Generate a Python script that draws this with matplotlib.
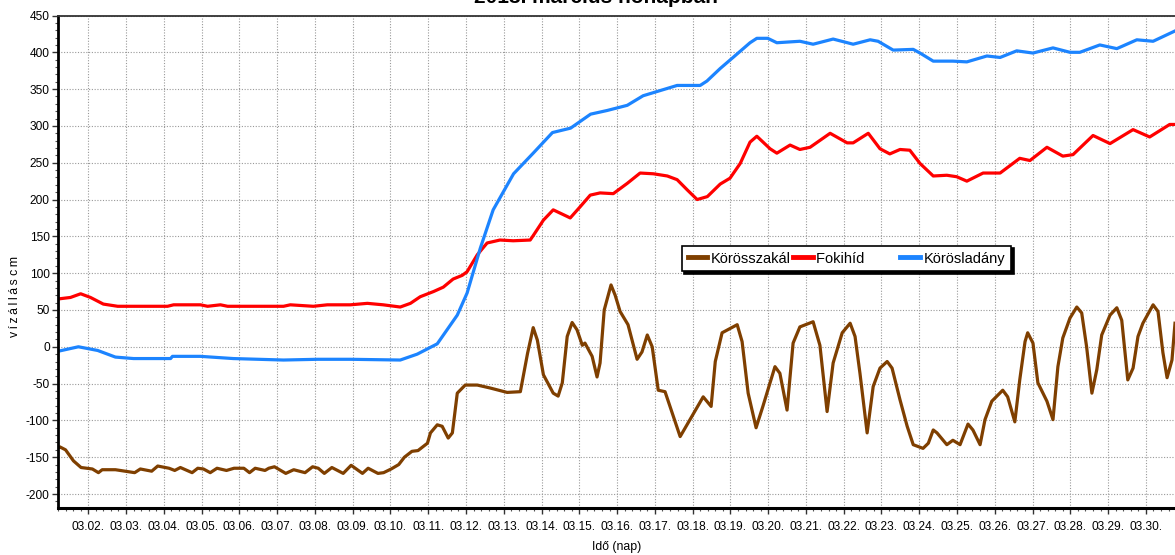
import matplotlib
matplotlib.use("Agg")
import matplotlib.pyplot as plt
from matplotlib.ticker import MultipleLocator, FixedLocator

plt.rcParams['font.family'] = ['Liberation Sans', 'DejaVu Sans']
plt.rcParams['axes.unicode_minus'] = False

# nap = marcius napja (tort resz = napon beluli ido), cm = vizallas
szakal_nap = [1.21, 1.25, 1.40, 1.61, 1.81, 2.11, 2.27, 2.37, 2.72, 3.23, 3.38, 3.68, 3.84, 4.14, 4.29,
              4.44, 4.75, 4.90, 5.05, 5.23, 5.41, 5.66, 5.86, 6.12, 6.27, 6.42, 6.68, 6.78, 6.93, 7.23,
              7.44, 7.74, 7.94, 8.09, 8.25, 8.45, 8.75, 8.96, 9.26, 9.41, 9.67, 9.82, 10.02, 10.22, 10.37,
              10.57, 10.73, 10.83, 10.98, 11.06, 11.24, 11.37, 11.53, 11.64, 11.77, 11.98, 12.30, 12.64,
              13.09, 13.44, 13.63, 13.78, 13.89, 14.05, 14.31, 14.44, 14.55, 14.68, 14.81, 14.94, 15.08,
              15.15, 15.34, 15.47, 15.55, 15.66, 15.84, 15.95, 16.08, 16.29, 16.53, 16.66, 16.80, 16.93,
              17.09, 17.27, 17.46, 17.67, 17.93, 18.28, 18.49, 18.60, 18.78, 19.18, 19.31, 19.47, 19.68,
              19.86, 20.18, 20.31, 20.50, 20.66, 20.84, 21.19, 21.37, 21.56, 21.72, 21.96, 22.17, 22.30,
              22.43, 22.62, 22.78, 22.96, 23.15, 23.28, 23.49, 23.68, 23.84, 24.10, 24.24, 24.37, 24.47,
              24.73, 24.89, 25.08, 25.29, 25.42, 25.61, 25.74, 25.92, 26.21, 26.34, 26.53, 26.66, 26.80,
              26.87, 27.01, 27.14, 27.38, 27.54, 27.67, 27.80, 27.99, 28.17, 28.30, 28.43, 28.57, 28.70,
              28.83, 29.05, 29.23, 29.36, 29.52, 29.66, 29.79, 29.92, 30.19, 30.32, 30.45, 30.56, 30.69,
              30.77]
szakal_cm = [-137, -136, -140, -155, -164, -166, -171, -167, -167, -171, -166, -169, -162, -165, -168,
             -164, -171, -165, -166, -171, -165, -168, -165, -165, -171, -165, -168, -165, -163, -172,
             -167, -171, -163, -165, -172, -164, -172, -161, -172, -165, -172, -171, -166, -160, -150,
             -142, -141, -137, -131, -117, -106, -108, -124, -117, -63, -52, -52, -56,
             -62, -61, -9, 26, 9, -38, -63, -67, -49, 14, 33, 23, 2,
             5, -13, -41, -22, 50, 84, 70, 48, 30, -17, -7, 16, 0,
             -59, -61, -90, -122, -99, -68, -81, -20, 19, 30, 7, -63, -110,
             -81, -27, -36, -86, 5, 27, 34, 2, -88, -22, 19, 32, 14,
             -36, -117, -54, -29, -20, -29, -72, -108, -133, -138, -131, -113, -117,
             -133, -127, -133, -105, -113, -133, -99, -74, -59, -68, -102, -45, 7,
             19, 5, -49, -74, -99, -27, 12, 39, 54, 46, 0, -63, -31,
             16, 43, 53, 36, -45, -29, 14, 32, 57, 48, -8, -42, -18,
             32]

fokihid_nap = [1.21, 1.53, 1.80, 2.06, 2.40, 2.78, 4.10, 4.26, 4.97, 5.16, 5.50, 5.69, 7.17, 7.35, 7.96,
               8.33, 8.94, 9.39, 9.81, 10.26, 10.53, 10.79, 11.14, 11.40, 11.66, 11.90, 12.03, 12.30,
               12.56, 12.90, 13.25, 13.70, 13.78, 14.05, 14.31, 14.68, 14.76, 15.02, 15.29, 15.55, 15.90,
               16.27, 16.61, 16.96, 17.33, 17.59, 17.86, 18.12, 18.39, 18.73, 18.99, 19.26, 19.52, 19.70,
               20.05, 20.23, 20.58, 20.84, 21.11, 21.64, 22.09, 22.25, 22.65, 22.96, 23.22, 23.49, 23.75,
               24.02, 24.37, 24.73, 24.99, 25.26, 25.69, 26.14, 26.66, 26.93, 27.38, 27.80, 28.07, 28.60,
               29.05, 29.66, 30.10, 30.63, 30.77]
fokihid_cm = [65, 67, 72, 67, 58, 55, 55, 57, 57, 55, 57, 55, 55, 57, 55,
              57, 57, 59, 57, 54, 59, 68, 75, 81, 92, 97, 102, 125,
              141, 145, 144, 145, 151, 172, 186, 177, 175, 190, 206, 209, 208,
              222, 236, 235, 232, 227, 213, 200, 204, 221, 229, 249, 278, 286,
              269, 263, 274, 268, 271, 290, 277, 277, 290, 269, 262, 268, 267,
              249, 232, 233, 231, 225, 236, 236, 256, 253, 271, 259, 261, 287,
              276, 295, 285, 302, 302]

ladany_nap = [1.21, 1.74, 2.25, 2.72, 3.20, 4.18, 4.23, 4.97, 5.84, 7.17, 8.07, 8.94, 10.26, 10.71,
              11.24, 11.77, 12.03, 12.38, 12.72, 13.26, 13.78, 14.29, 14.77, 15.30, 15.74, 16.27, 16.69,
              17.14, 17.59, 18.20, 18.38, 18.73, 19.07, 19.52, 19.70, 19.99, 20.23, 20.84, 21.19, 21.72,
              22.25, 22.70, 22.91, 23.31, 23.84, 24.02, 24.37, 24.89, 25.26, 25.79, 26.14, 26.58, 27.01,
              27.54, 27.99, 28.25, 28.78, 29.23, 29.76, 30.19, 30.77]
ladany_cm = [-6, 0, -5, -14, -16, -16, -13, -13, -16, -18, -17, -17, -18, -10,
             4, 43, 73, 134, 186, 235, 263, 291, 297, 316, 321, 328, 341,
             348, 355, 355, 361, 378, 393, 413, 419, 419, 413, 415, 411, 418,
             411, 417, 415, 403, 404, 399, 388, 388, 387, 395, 393, 402, 399,
             406, 400, 400, 410, 405, 417, 415, 429]

allomasok = ["Körösszakál", "Fokihíd", "Körösladány"]
szinek = ["#7f3f00", "#ff0000", "#1c84ff"]

nap_tick = [2, 3, 4, 5, 6, 7, 8, 9, 10, 11, 12, 13, 14, 15, 16, 17, 18, 19, 20, 21, 22, 23, 24, 25,
            26, 27, 28, 29, 30]
nap_cimke = ["03.02.", "03.03.", "03.04.", "03.05.", "03.06.", "03.07.", "03.08.", "03.09.", "03.10.",
             "03.11.", "03.12.", "03.13.", "03.14.", "03.15.", "03.16.", "03.17.", "03.18.", "03.19.",
             "03.20.", "03.21.", "03.22.", "03.23.", "03.24.", "03.25.", "03.26.", "03.27.", "03.28.",
             "03.29.", "03.30."]


fig = plt.figure(figsize=(11.75, 5.55), dpi=100)
ax = fig.add_axes([58 / 1175, 47 / 555, 1117 / 1175, 492.5 / 555])

vonalak = []
for nap, cm, szin in zip([szakal_nap, fokihid_nap, ladany_nap], [szakal_cm, fokihid_cm, ladany_cm], szinek):
    l, = ax.plot(nap, cm, color=szin, lw=2.3, solid_joinstyle='round')
    vonalak.append(l)

ax.set_xlim(1.2, 30.77)
ax.set_ylim(-219, 450)

ax.xaxis.set_major_locator(FixedLocator(nap_tick))
ax.set_xticklabels(nap_cimke)
ax.xaxis.set_minor_locator(MultipleLocator(0.2))
ax.yaxis.set_major_locator(MultipleLocator(50))
ax.yaxis.set_minor_locator(MultipleLocator(10))
ax.tick_params(which='major', direction='out', length=4, width=1, labelsize=8.6, pad=2, color='#333333')
ax.tick_params(which='minor', direction='out', length=2.5, width=0.8, color='#555555')
ax.tick_params(axis='x', which='major', pad=5)

ax.grid(True, which='major', linestyle=(0, (1, 1.5)), color='#999999', lw=0.8)

ax.spines['left'].set_linewidth(2)
ax.spines['bottom'].set_linewidth(2.2)
ax.spines['top'].set_linewidth(1.3)
ax.spines['top'].set_color('#333333')
ax.spines['right'].set_visible(False)

ax.set_xlabel("Idő (nap)", fontsize=8.8, labelpad=6)
# ritkitott betukozes vekony szokozokkel
ax.set_ylabel("v\u2009í\u2009z\u2009á\u2009l\u2009l\u2009á\u2009s c\u2009m", fontsize=8.8)
ax.yaxis.set_label_coords(-0.033, 0.43)

# cim: csak az also resze latszik a kep tetejen
fig.text(596 / 1175, 1 - 3 / 555, "2013. március hónapban", ha='center', va='baseline',
         fontsize=15, fontweight='bold')

leg = ax.legend(vonalak, [allomasok[0], allomasok[1] + "        ", allomasok[2]], ncol=3,
                loc='upper left', bbox_to_anchor=(681.7 / 1175, 1 - 245.7 / 555),
                bbox_transform=fig.transFigure, borderaxespad=0, fontsize=10.5,
                handlelength=1.35, handletextpad=0.25, columnspacing=0.15, borderpad=0.4,
                fancybox=False, framealpha=1, edgecolor='black',
                shadow={'color': 'black', 'alpha': 1.0})
leg.get_frame().set_linewidth(1.2)
for h in leg.get_lines():
    h.set_linewidth(3.5)

fig.savefig("out.png", dpi=100)
